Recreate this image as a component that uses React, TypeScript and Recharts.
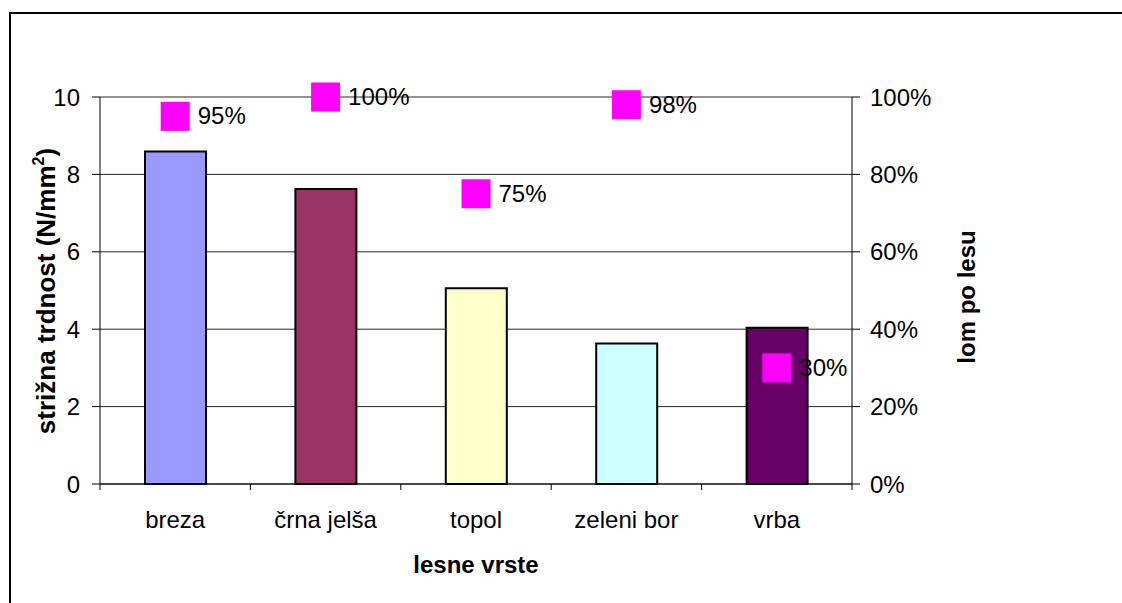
import { ComposedChart, Bar, Scatter, Cell, XAxis, YAxis, CartesianGrid, Label } from "recharts";

const CATEGORIES = ["breza", "črna jelša", "topol", "zeleni bor", "vrba"];
const STRENGTH = [8.59, 7.62, 5.06, 3.63, 4.04];
const FRACTURE = [0.95, 1.0, 0.75, 0.98, 0.3];
const BAR_COLORS = ["#9999FF", "#993366", "#FFFFCC", "#CCFFFF", "#660066"];
const LEFT_TICKS = [0, 2, 4, 6, 8, 10];
const RIGHT_TICKS = [0, 0.2, 0.4, 0.6, 0.8, 1];

const FONT = '"Liberation Sans", Arial, sans-serif';
const W = 1122;
const H = 603;
const PLOT_LEFT = 100;
const PLOT_RIGHT = 852;
const PLOT_TOP = 97;
const PLOT_BOTTOM = 484;
const BAND = (PLOT_RIGHT - PLOT_LEFT) / CATEGORIES.length;

const data = CATEGORIES.map((name, i) => ({ name, strength: STRENGTH[i], fracture: FRACTURE[i] }));

const pct = (v: number) => `${Math.round(v * 100)}%`;

function XTick(props: any) {
  const { x, payload, index } = props;
  const left = x - BAND / 2;
  return (
    <g>
      <line x1={left} x2={left} y1={PLOT_BOTTOM} y2={PLOT_BOTTOM + 6} stroke="#000" />
      {index === CATEGORIES.length - 1 && (
        <line x1={x + BAND / 2} x2={x + BAND / 2} y1={PLOT_BOTTOM} y2={PLOT_BOTTOM + 6} stroke="#000" />
      )}
      <text x={x} y={PLOT_BOTTOM + 44} textAnchor="middle" fontSize={24} fontFamily={FONT} fill="#000">
        {payload.value}
      </text>
    </g>
  );
}

function Marker(props: any) {
  const { cx, cy, payload } = props;
  const s = 29;
  return (
    <g>
      <rect x={cx - s / 2} y={cy - s / 2} width={s} height={s} fill="#FF00FF" />
      <text x={cx + s / 2 + 8} y={cy + 8} fontSize={24} fontFamily={FONT} fill="#000">
        {pct(payload.fracture)}
      </text>
    </g>
  );
}

export default function App() {
  return (
    <div style={{ position: "fixed", left: 0, top: 0, width: W, height: H, background: "#fff", overflow: "hidden" }}>
      <div
        style={{
          position: "absolute",
          left: 9,
          top: 12,
          width: W + 50,
          height: H + 50,
          borderTop: "2px solid #000",
          borderLeft: "2px solid #000",
        }}
      />
      <div style={{ position: "absolute", left: 0, top: 0 }}>
        <ComposedChart width={W} height={H} data={data} margin={{ top: PLOT_TOP, right: 0, bottom: 0, left: 0 }}>
          <CartesianGrid yAxisId="left" vertical={false} stroke="#000" strokeOpacity={0.85} />
          <XAxis
            dataKey="name"
            height={H - PLOT_BOTTOM}
            interval={0}
            tickLine={false}
            axisLine={{ stroke: "#000" }}
            tick={<XTick />}
          >
            <Label
              content={() => (
                <text x={476} y={573} textAnchor="middle" fontSize={24} fontWeight="bold" fontFamily={FONT} fill="#000">
                  lesne vrste
                </text>
              )}
            />
          </XAxis>
          <YAxis
            yAxisId="left"
            width={PLOT_LEFT}
            domain={[0, 10]}
            ticks={LEFT_TICKS}
            interval={0}
            tickSize={8}
            tickMargin={12}
            axisLine={{ stroke: "#000" }}
            tickLine={{ stroke: "#000" }}
            tick={{ fill: "#000", fontSize: 24, fontFamily: FONT }}
          >
            <Label
              content={() => (
                <text
                  transform="translate(55, 291) rotate(-90)"
                  textAnchor="middle"
                  fontSize={26}
                  fontWeight="bold"
                  fontFamily={FONT}
                  fill="#000"
                >
                  strižna trdnost (N/mm
                  <tspan fontSize={16} dy={-11}>2</tspan>
                  <tspan dy={11}>)</tspan>
                </text>
              )}
            />
          </YAxis>
          <YAxis
            yAxisId="right"
            orientation="right"
            width={W - PLOT_RIGHT}
            domain={[0, 1]}
            ticks={RIGHT_TICKS}
            interval={0}
            tickSize={8}
            tickMargin={10}
            tickFormatter={pct}
            axisLine={{ stroke: "#000" }}
            tickLine={{ stroke: "#000" }}
            tick={{ fill: "#000", fontSize: 24, fontFamily: FONT }}
          >
            <Label
              content={() => (
                <text
                  transform="translate(975, 297) rotate(-90)"
                  textAnchor="middle"
                  fontSize={24}
                  fontWeight="bold"
                  fontFamily={FONT}
                  fill="#000"
                >
                  lom po lesu
                </text>
              )}
            />
          </YAxis>
          <Bar yAxisId="left" dataKey="strength" barSize={61} stroke="#000" strokeWidth={2} isAnimationActive={false}>
            {data.map((_, i) => (
              <Cell key={i} fill={BAR_COLORS[i]} />
            ))}
          </Bar>
          <Scatter yAxisId="right" dataKey="fracture" shape={<Marker />} isAnimationActive={false} />
        </ComposedChart>
      </div>
    </div>
  );
}
